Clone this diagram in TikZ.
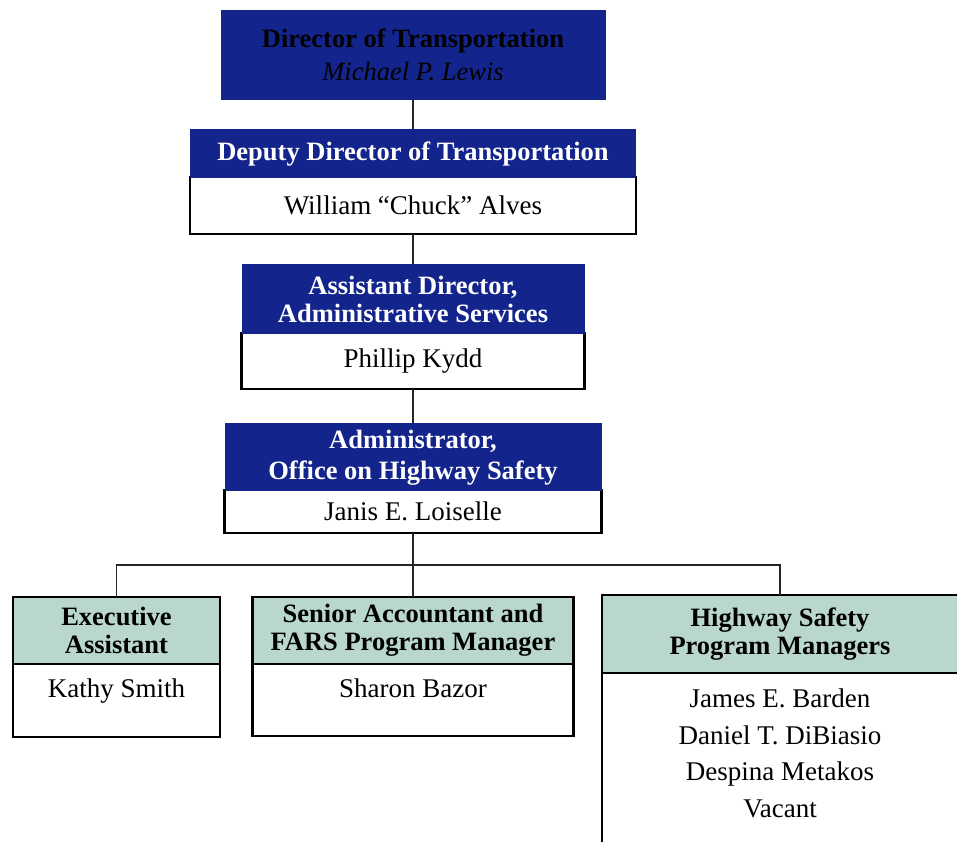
\documentclass[tikz,border=0pt]{standalone}
\usepackage{fontspec}
\setmainfont{Liberation Serif}
\usetikzlibrary{positioning}

\definecolor{chartblue}{RGB}{19,37,140}
\definecolor{chartgreen}{RGB}{185,215,203}
\newcommand{\headfont}{\bfseries\fontsize{26.5}{28}\selectfont}
\newcommand{\namefont}{\fontsize{27}{36.5}\selectfont}

\tikzset{
  dirbox/.style={fill=chartblue, text=black, font=\headfont, align=center, inner sep=0pt, outer sep=0pt},
  bluehead/.style={fill=chartblue, text=white, font=\headfont, align=center, inner sep=0pt, outer sep=0pt},
  greenhead/.style={fill=chartgreen, draw=black, line width=2.8pt, font=\headfont, align=center, inner sep=0pt, outer sep=0pt},
  bodybox/.style={fill=white, draw=black, line width=2.8pt, font=\namefont, inner sep=0pt, outer sep=0pt},
  person/.style={font=\namefont, align=center, inner sep=0pt},
  conn/.style={draw=black!85, line width=1.5pt}
}

\begin{document}
\begin{tikzpicture}[x=1pt, y=-1pt]
\useasboundingbox (0,0) rectangle (957,842);
\clip (0,0) rectangle (957,842);

% chain of command
\node[dirbox, minimum width=385pt, minimum height=90pt] (dir) at (413,55)
  {Director of Transportation\\[5pt]{\mdseries\itshape Michael P. Lewis}};

\node[bodybox, minimum width=446pt, minimum height=57pt] (depbody) at (413,205.5) {William ``Chuck'' Alves};
\node[bluehead, minimum width=446pt, minimum height=49pt, above=-1.4pt of depbody] (dephead)
  {Deputy Director of Transportation};

\node[bodybox, minimum width=343pt, minimum height=56pt] (astbody) at (413,361) {Phillip Kydd};
\node[bluehead, minimum width=343pt, minimum height=70pt, above=-1.4pt of astbody] (asthead)
  {Assistant Director,\\Administrative Services};

\node[bodybox, minimum width=377pt, minimum height=43pt] (admbody) at (413,511.5) {Janis E. Loiselle};
\node[bluehead, minimum width=377pt, minimum height=68pt, above=-1.4pt of admbody] (admhead)
  {Administrator,\\[3pt]Office on Highway Safety};

\draw[conn] (dir.south) -- (dephead.north);
\draw[conn] (depbody.south) -- (asthead.north);
\draw[conn] (astbody.south) -- (admhead.north);

% staff boxes
\node[greenhead, minimum width=207pt, minimum height=67pt] (exhead) at (116.5,630.5) {Executive\\Assistant};
\node[bodybox, minimum width=207pt, minimum height=73pt, below=0pt of exhead] (exbody) {};
\node[person, below=15pt of exhead] (kathy) {Kathy Smith};

\node[greenhead, minimum width=321pt, minimum height=67pt] (srhead) at (413,630.5)
  {Senior Accountant and\\FARS Program Manager};
\node[bodybox, minimum width=321pt, minimum height=72pt, below=0pt of srhead] (srbody) {};
\node[person, below=15pt of srhead] (sharon) {Sharon Bazor};

\node[greenhead, minimum width=356pt, minimum height=78pt] (hwhead) at (780,634)
  {Highway Safety\\Program Managers};
\node[bodybox, minimum width=356pt, minimum height=210pt, below=0pt of hwhead] (hwbody) {};
\node[person, below=16pt of hwhead] (hwnames)
  {James E. Barden\\Daniel T. DiBiasio\\Despina Metakos\\Vacant};

\draw[conn] (admbody.south) -- ++(0,32) coordinate (bus);
\draw[conn] (bus) -| (exhead.north);
\draw[conn] (bus) -- (srhead.north);
\draw[conn] (bus) -| (hwhead.north);
\end{tikzpicture}
\end{document}
